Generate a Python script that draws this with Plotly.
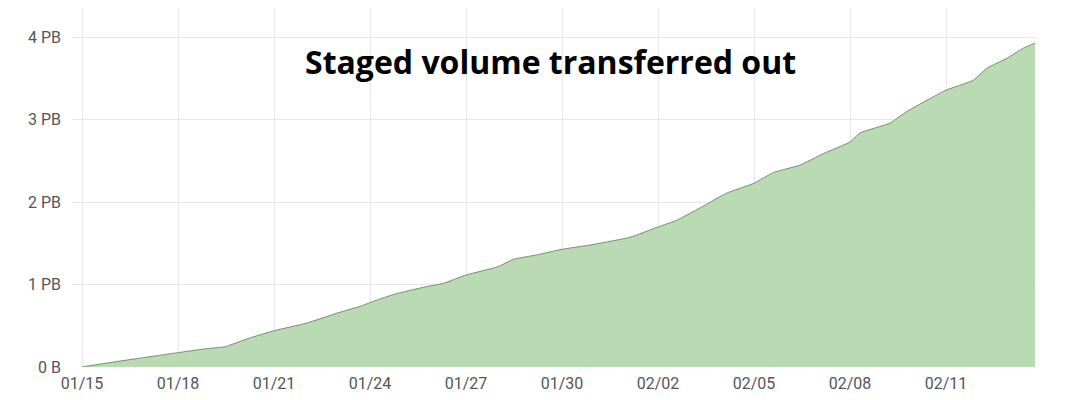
import plotly.graph_objects as go

dates = [
    "2024-01-15 00:00", "2024-01-15 17:30", "2024-01-16 18:30", "2024-01-18 00:00",
    "2024-01-18 20:00", "2024-01-19 11:30", "2024-01-20 05:00", "2024-01-21 00:00",
    "2024-01-22 00:00", "2024-01-23 00:30", "2024-01-23 15:30", "2024-01-24 06:30",
    "2024-01-24 19:00", "2024-01-25 16:00", "2024-01-26 07:00", "2024-01-27 00:00",
    "2024-01-28 00:00", "2024-01-28 11:30", "2024-01-29 05:00", "2024-01-30 00:00",
    "2024-01-30 21:00", "2024-02-01 03:00", "2024-02-02 00:00", "2024-02-02 14:00",
    "2024-02-03 07:30", "2024-02-04 03:30", "2024-02-05 00:00", "2024-02-05 14:30",
    "2024-02-06 10:30", "2024-02-07 04:00", "2024-02-08 00:00", "2024-02-08 07:30",
    "2024-02-09 06:00", "2024-02-09 18:30", "2024-02-10 14:30", "2024-02-11 00:00",
    "2024-02-11 20:30", "2024-02-12 06:30", "2024-02-12 21:30", "2024-02-13 10:00",
    "2024-02-13 18:45",
]
volume_pb = [
    0.00, 0.045, 0.105, 0.174,
    0.22, 0.247, 0.348, 0.44,
    0.53, 0.66, 0.73, 0.82,
    0.886, 0.967, 1.015, 1.116,
    1.217, 1.307, 1.36, 1.428,
    1.48, 1.574, 1.70, 1.78,
    1.93, 2.11, 2.23, 2.36,
    2.45, 2.59, 2.73, 2.84,
    2.96, 3.10, 3.28, 3.36,
    3.48, 3.625, 3.745, 3.87,
    3.93,
]

y_tickvals = [0, 1, 2, 3, 4]
y_ticktext = ["0 B", "1 PB", "2 PB", "3 PB", "4 PB"]
x_tickvals = ["2024-01-15", "2024-01-18", "2024-01-21", "2024-01-24", "2024-01-27",
              "2024-01-30", "2024-02-02", "2024-02-05", "2024-02-08", "2024-02-11"]
x_ticktext = ["01/15", "01/18", "01/21", "01/24", "01/27",
              "01/30", "02/02", "02/05", "02/08", "02/11"]
title_text = "Staged volume transferred out"

fig = go.Figure()
fig.add_trace(go.Scatter(
    x=dates, y=volume_pb, mode="lines", fill="tozeroy",
    fillcolor="rgb(186,218,180)",
    line=dict(color="rgb(115,145,110)", width=1, shape="spline", smoothing=0.4),
    showlegend=False,
))

fig.update_layout(
    width=1078, height=392,
    margin=dict(l=64, r=50, t=0, b=33),
    paper_bgcolor="white", plot_bgcolor="white",
    font=dict(family="Roboto", size=16, color="#555555"),
    xaxis=dict(
        range=["2024-01-14 16:30", "2024-02-13 19:30"],
        tickvals=x_tickvals, ticktext=x_ticktext,
        showgrid=True, gridcolor="#e6e6e6", gridwidth=1,
        zeroline=False, showline=False, ticks="",
        ticklabelstandoff=5,
    ),
    yaxis=dict(
        range=[0, 4.357],
        tickvals=y_tickvals, ticktext=y_ticktext,
        showgrid=True, gridcolor="#e6e6e6", gridwidth=1,
        zeroline=False, showline=False, ticks="",
        ticklabelstandoff=10,
    ),
    annotations=[dict(
        text="<b>" + title_text + "</b>",
        x=(550 - 72) / 964, xref="paper", y=0.85, yref="paper",
        showarrow=False,
        font=dict(family="Open Sans", size=32, color="black"),
        xanchor="center", yanchor="middle",
    )],
)

fig.write_html("out.html")
